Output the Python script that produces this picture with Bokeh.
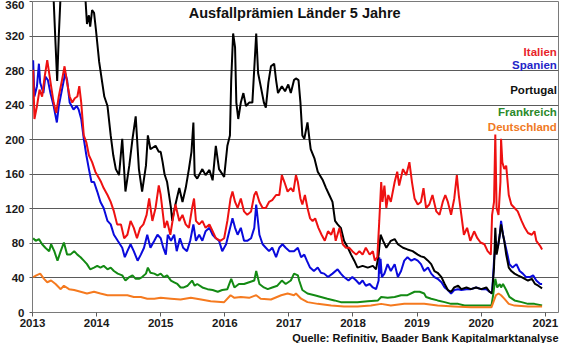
from bokeh.plotting import figure
from bokeh.models import Range1d, FixedTicker, Label, Title
from bokeh.embed import file_html
from bokeh.resources import INLINE

# ---------------- data (5y CDS, bp) ----------------
pt_t = [2013.00, 2013.10, 2013.20, 2013.30, 2013.33, 2013.36, 2013.385, 2013.41, 2013.44, 2013.50,
        2013.58, 2013.66, 2013.75, 2013.82, 2013.85, 2013.88, 2013.90, 2013.93, 2013.96, 2013.99,
        2014.04, 2014.09, 2014.12, 2014.17, 2014.22, 2014.26, 2014.30, 2014.35, 2014.40, 2014.45,
        2014.51, 2014.56, 2014.61, 2014.66, 2014.71, 2014.77, 2014.80, 2014.84, 2014.92, 2014.97,
        2015.00, 2015.03, 2015.06, 2015.10, 2015.16, 2015.18, 2015.23, 2015.29, 2015.34, 2015.39,
        2015.44, 2015.48, 2015.51, 2015.53, 2015.57, 2015.65, 2015.70, 2015.76, 2015.81, 2015.86,
        2015.91, 2015.99, 2016.04, 2016.08, 2016.10, 2016.13, 2016.16, 2016.18, 2016.21, 2016.25,
        2016.29, 2016.33, 2016.38, 2016.43, 2016.47, 2016.49, 2016.52, 2016.56, 2016.61, 2016.64,
        2016.68, 2016.72, 2016.77, 2016.80, 2016.83, 2016.89, 2016.94, 2016.99, 2017.03, 2017.08,
        2017.11, 2017.15, 2017.18, 2017.21, 2017.24, 2017.29, 2017.32, 2017.34, 2017.40, 2017.45,
        2017.53, 2017.58, 2017.63, 2017.68, 2017.72, 2017.76, 2017.81, 2017.86, 2017.92, 2017.97,
        2018.02, 2018.07, 2018.15, 2018.23, 2018.31, 2018.36, 2018.40, 2018.43, 2018.47, 2018.52,
        2018.59, 2018.65, 2018.70, 2018.78, 2018.85, 2018.93, 2019.01, 2019.06, 2019.11, 2019.17,
        2019.22, 2019.27, 2019.32, 2019.38, 2019.43, 2019.48, 2019.53, 2019.58, 2019.64, 2019.69,
        2019.77, 2019.84, 2019.92, 2020.00, 2020.08, 2020.13, 2020.17, 2020.20, 2020.22, 2020.24,
        2020.26, 2020.29, 2020.31, 2020.34, 2020.36, 2020.39, 2020.43, 2020.47, 2020.52, 2020.57,
        2020.63, 2020.68, 2020.73, 2020.79, 2020.84, 2020.89, 2020.95]
pt_v = [440, 420, 400, 380, 362, 310, 268, 320, 370, 410,
        440, 430, 400, 370, 334, 344, 331, 350, 347, 327,
        290, 265, 250, 239, 205, 182, 166, 159, 201, 140,
        170, 201, 227, 166, 140, 170, 205, 189, 193, 186,
        186, 174, 160, 151, 121, 106, 125, 144, 128, 144,
        166, 186, 220, 159, 155, 166, 159, 165, 153, 193,
        166, 157, 193, 205, 269, 323, 307, 243, 224, 243,
        254, 239, 243, 243, 296, 323, 277, 262, 243, 237,
        266, 285, 288, 269, 254, 262, 256, 264, 254, 269,
        271, 269, 243, 205, 201, 220, 201, 189, 178, 163,
        153, 144, 136, 128, 106, 102, 98, 83, 75, 67,
        60, 52, 54, 52, 54, 50, 67, 90, 83, 75,
        83, 85, 79, 75, 73, 71, 67, 65, 64, 60,
        56, 48, 46, 41, 33, 26, 24, 29, 31, 27,
        29, 27, 29, 27, 29, 24, 22, 52, 98, 67,
        75, 90, 102, 90, 83, 67, 52, 48, 45, 43,
        41, 39, 37, 39, 33, 31, 28]

it_t = [2013.01, 2013.03, 2013.07, 2013.11, 2013.15, 2013.19, 2013.23, 2013.26, 2013.29, 2013.33,
        2013.37, 2013.41, 2013.46, 2013.50, 2013.54, 2013.58, 2013.62, 2013.66, 2013.70, 2013.73,
        2013.76, 2013.80, 2013.84, 2013.88, 2013.93, 2013.98, 2014.04, 2014.07, 2014.11, 2014.17,
        2014.22, 2014.27, 2014.32, 2014.38, 2014.43, 2014.48, 2014.53, 2014.58, 2014.63, 2014.68,
        2014.73, 2014.78, 2014.82, 2014.87, 2014.92, 2014.97, 2015.00, 2015.03, 2015.06, 2015.10,
        2015.15, 2015.20, 2015.23, 2015.29, 2015.34, 2015.39, 2015.44, 2015.49, 2015.52, 2015.55,
        2015.60, 2015.65, 2015.70, 2015.76, 2015.81, 2015.86, 2015.93, 2015.99, 2016.04, 2016.09,
        2016.12, 2016.16, 2016.20, 2016.25, 2016.30, 2016.35, 2016.41, 2016.46, 2016.49, 2016.54,
        2016.59, 2016.64, 2016.69, 2016.74, 2016.80, 2016.85, 2016.89, 2016.93, 2016.98, 2017.03,
        2017.07, 2017.11, 2017.14, 2017.18, 2017.21, 2017.25, 2017.29, 2017.33, 2017.37, 2017.41,
        2017.46, 2017.51, 2017.56, 2017.61, 2017.66, 2017.70, 2017.73, 2017.79, 2017.84, 2017.89,
        2017.94, 2017.99, 2018.05, 2018.10, 2018.15, 2018.20, 2018.26, 2018.31, 2018.34, 2018.38,
        2018.41, 2018.44, 2018.46, 2018.49, 2018.52, 2018.55, 2018.59, 2018.65, 2018.69, 2018.72,
        2018.78, 2018.83, 2018.88, 2018.92, 2018.96, 2019.01, 2019.06, 2019.10, 2019.14, 2019.19,
        2019.24, 2019.30, 2019.35, 2019.40, 2019.44, 2019.48, 2019.53, 2019.58, 2019.62, 2019.65,
        2019.69, 2019.73, 2019.78, 2019.83, 2019.89, 2019.94, 2019.99, 2020.05, 2020.10, 2020.15,
        2020.17, 2020.20, 2020.22, 2020.24, 2020.27, 2020.30, 2020.31, 2020.33, 2020.36, 2020.39,
        2020.43, 2020.47, 2020.52, 2020.57, 2020.63, 2020.68, 2020.73, 2020.79, 2020.83, 2020.86,
        2020.92, 2020.95]
it_v = [281, 224, 239, 258, 250, 273, 292, 277, 262, 243,
        231, 250, 269, 285, 266, 250, 243, 248, 250, 262,
        243, 205, 197, 182, 174, 163, 155, 151, 144, 136,
        128, 117, 102, 102, 86, 90, 106, 98, 86, 98,
        102, 113, 132, 106, 121, 147, 136, 117, 98, 106,
        90, 113, 125, 106, 113, 102, 98, 121, 132, 106,
        102, 106, 98, 102, 94, 86, 83, 86, 106, 132,
        140, 128, 121, 132, 117, 113, 117, 136, 140, 128,
        121, 121, 128, 130, 136, 136, 159, 151, 140, 144,
        140, 159, 151, 132, 125, 136, 121, 109, 106, 109,
        98, 90, 83, 94, 90, 98, 83, 98, 79, 75,
        75, 71, 67, 71, 67, 75, 67, 71, 60, 64,
        106, 151, 128, 147, 121, 136, 128, 151, 163, 147,
        166, 159, 174, 151, 132, 125, 128, 144, 121, 125,
        136, 117, 113, 128, 136, 128, 113, 132, 159, 136,
        113, 90, 98, 83, 94, 86, 81, 79, 71, 67,
        113, 128, 206, 121, 113, 151, 201, 174, 166, 170,
        136, 125, 121, 117, 106, 98, 92, 90, 94, 83,
        77, 73]

es_t = [2013.01, 2013.03, 2013.07, 2013.10, 2013.12, 2013.17, 2013.20, 2013.24, 2013.28, 2013.33,
        2013.38, 2013.41, 2013.46, 2013.51, 2013.54, 2013.58, 2013.64, 2013.69, 2013.72, 2013.76,
        2013.80, 2013.84, 2013.88, 2013.92, 2013.96, 2014.01, 2014.06, 2014.11, 2014.17, 2014.22,
        2014.27, 2014.33, 2014.40, 2014.44, 2014.48, 2014.53, 2014.58, 2014.64, 2014.69, 2014.74,
        2014.79, 2014.84, 2014.90, 2014.95, 2015.00, 2015.04, 2015.08, 2015.11, 2015.16, 2015.21,
        2015.25, 2015.30, 2015.35, 2015.41, 2015.46, 2015.51, 2015.55, 2015.60, 2015.65, 2015.70,
        2015.76, 2015.81, 2015.86, 2015.91, 2015.96, 2016.02, 2016.07, 2016.12, 2016.16, 2016.20,
        2016.25, 2016.30, 2016.35, 2016.41, 2016.46, 2016.49, 2016.54, 2016.59, 2016.64, 2016.69,
        2016.74, 2016.80, 2016.85, 2016.90, 2016.95, 2017.01, 2017.08, 2017.14, 2017.19, 2017.24,
        2017.28, 2017.33, 2017.39, 2017.45, 2017.50, 2017.55, 2017.61, 2017.68, 2017.76, 2017.81,
        2017.86, 2017.93, 2017.99, 2018.05, 2018.10, 2018.15, 2018.20, 2018.26, 2018.31, 2018.36,
        2018.40, 2018.41, 2018.42, 2018.43, 2018.45, 2018.49, 2018.54, 2018.59, 2018.65, 2018.70,
        2018.75, 2018.80, 2018.85, 2018.91, 2018.96, 2019.01, 2019.06, 2019.11, 2019.17, 2019.22,
        2019.27, 2019.32, 2019.38, 2019.43, 2019.48, 2019.53, 2019.58, 2019.64, 2019.69, 2019.77,
        2019.84, 2019.92, 2020.00, 2020.08, 2020.13, 2020.17, 2020.20, 2020.22, 2020.26, 2020.29,
        2020.31, 2020.34, 2020.36, 2020.41, 2020.44, 2020.49, 2020.55, 2020.60, 2020.65, 2020.70,
        2020.76, 2020.81, 2020.86, 2020.92, 2020.95]
es_v = [292, 250, 262, 288, 266, 254, 273, 269, 254, 239,
        220, 239, 258, 277, 269, 243, 235, 239, 235, 224,
        201, 182, 166, 151, 151, 140, 128, 121, 106, 102,
        90, 83, 75, 64, 71, 79, 71, 60, 67, 75,
        90, 75, 83, 90, 86, 75, 67, 90, 83, 90,
        71, 86, 75, 71, 83, 102, 83, 90, 83, 94,
        98, 90, 86, 83, 71, 79, 94, 109, 98, 90,
        98, 83, 83, 86, 98, 125, 90, 79, 75, 71,
        75, 64, 75, 79, 75, 71, 71, 75, 64, 67,
        60, 52, 48, 52, 46, 45, 41, 45, 50, 45,
        41, 37, 41, 37, 33, 37, 31, 33, 29, 27,
        37, 64, 45, 62, 41, 45, 56, 48, 56, 41,
        48, 60, 64, 60, 62, 60, 56, 48, 52, 45,
        41, 39, 35, 29, 26, 22, 26, 27, 26, 27,
        27, 29, 27, 27, 24, 22, 60, 75, 75, 90,
        106, 90, 83, 67, 56, 52, 56, 48, 45, 41,
        41, 43, 37, 33, 33]

fr_t = [2013.01, 2013.05, 2013.10, 2013.15, 2013.20, 2013.26, 2013.29, 2013.34, 2013.39, 2013.44,
        2013.49, 2013.54, 2013.59, 2013.65, 2013.70, 2013.75, 2013.80, 2013.85, 2013.90, 2013.96,
        2014.01, 2014.06, 2014.11, 2014.17, 2014.22, 2014.27, 2014.33, 2014.40, 2014.45, 2014.51,
        2014.56, 2014.61, 2014.66, 2014.71, 2014.77, 2014.80, 2014.84, 2014.90, 2014.95, 2015.00,
        2015.05, 2015.10, 2015.16, 2015.21, 2015.26, 2015.31, 2015.36, 2015.42, 2015.49, 2015.53,
        2015.57, 2015.65, 2015.73, 2015.81, 2015.89, 2015.96, 2016.04, 2016.10, 2016.15, 2016.22,
        2016.30, 2016.38, 2016.46, 2016.49, 2016.54, 2016.61, 2016.67, 2016.74, 2016.82, 2016.89,
        2016.95, 2017.03, 2017.08, 2017.14, 2017.16, 2017.21, 2017.29, 2017.40, 2017.50, 2017.60,
        2017.71, 2017.81, 2017.92, 2018.07, 2018.23, 2018.39, 2018.44, 2018.54, 2018.65, 2018.75,
        2018.85, 2018.96, 2019.04, 2019.11, 2019.14, 2019.22, 2019.32, 2019.43, 2019.53, 2019.64,
        2019.74, 2019.84, 2019.95, 2020.05, 2020.16, 2020.19, 2020.22, 2020.25, 2020.29, 2020.31,
        2020.34, 2020.39, 2020.44, 2020.52, 2020.63, 2020.73, 2020.83, 2020.95]
fr_v = [86, 83, 85, 79, 75, 71, 79, 71, 60, 71,
        81, 67, 67, 71, 67, 64, 60, 56, 50, 52,
        54, 52, 54, 50, 52, 48, 45, 43, 37, 41,
        43, 39, 39, 41, 45, 52, 46, 45, 43, 45,
        41, 43, 37, 35, 33, 29, 29, 31, 37, 31,
        33, 29, 27, 26, 24, 26, 27, 39, 29, 33,
        33, 35, 37, 48, 33, 29, 27, 29, 31, 37,
        33, 37, 45, 43, 37, 26, 22, 20, 18, 16,
        14, 12, 12, 12, 13, 14, 18, 17, 18, 20,
        20, 24, 24, 22, 18, 16, 14, 12, 10, 10,
        8, 8, 8, 8, 8, 22, 39, 29, 33, 29,
        33, 26, 18, 14, 12, 10, 10, 8]

de_t = [2013.01, 2013.06, 2013.12, 2013.18, 2013.23, 2013.29, 2013.36, 2013.44, 2013.49, 2013.57,
        2013.65, 2013.75, 2013.85, 2013.96, 2014.06, 2014.17, 2014.27, 2014.38, 2014.48, 2014.58,
        2014.69, 2014.79, 2014.90, 2015.00, 2015.16, 2015.31, 2015.47, 2015.63, 2015.78, 2015.99,
        2016.09, 2016.15, 2016.25, 2016.38, 2016.49, 2016.56, 2016.72, 2016.88, 2016.98, 2017.08,
        2017.11, 2017.19, 2017.29, 2017.45, 2017.66, 2017.86, 2018.07, 2018.28, 2018.44, 2018.59,
        2018.80, 2019.01, 2019.11, 2019.32, 2019.58, 2019.84, 2020.16, 2020.20, 2020.23, 2020.27,
        2020.31, 2020.36, 2020.43, 2020.52, 2020.73, 2020.95]
de_v = [41, 43, 45, 39, 35, 37, 33, 27, 31, 27,
        26, 24, 22, 24, 22, 20, 20, 20, 20, 18,
        18, 16, 16, 17, 16, 15, 17, 15, 13, 12,
        20, 17, 18, 17, 20, 16, 15, 20, 22, 20,
        22, 16, 12, 10, 8, 7, 7, 8, 10, 8,
        10, 10, 10, 8, 7, 6, 6, 14, 20, 22,
        20, 16, 10, 8, 7, 7]

y_ticks = [0, 40, 80, 120, 160, 200, 240, 280, 320, 360]
x_ticks = [2013, 2014, 2015, 2016, 2017, 2018, 2019, 2020, 2021]
x_tick_labels = ["2013", "2014", "2015", "2016", "2017", "2018", "2019", "2020", "2021"]

series_names = ["Italien", "Spanien", "Portugal", "Frankreich", "Deutschland"]

# ---------------- figure ----------------
FONT = "Liberation Sans"
p = figure(width=564, height=343, x_range=Range1d(2013, 2021.206), y_range=Range1d(0, 360),
           output_backend="svg", toolbar_location=None,
           min_border_left=32, min_border_right=6, min_border_top=1, min_border_bottom=0)
p.background_fill_color = "white"
p.border_fill_color = "white"
p.outline_line_color = "#7a7a7a"
p.outline_line_width = 1

p.xgrid.grid_line_color = None
p.ygrid.grid_line_color = "#5a5a5a"
p.ygrid.grid_line_width = 1

p.yaxis.ticker = FixedTicker(ticks=y_ticks)
p.xaxis.ticker = FixedTicker(ticks=x_ticks)
p.xaxis.major_label_overrides = {t: s for t, s in zip(x_ticks, x_tick_labels)}

for ax in (p.xaxis[0], p.yaxis[0]):
    ax.axis_line_color = None
    ax.minor_tick_line_color = None
    ax.major_tick_line_color = "#5a5a5a"
    ax.major_tick_in = 0
    ax.major_label_text_font = FONT
    ax.major_label_text_font_style = "bold"
    ax.major_label_text_font_size = "11.5px"
    ax.major_label_text_color = "#1a1a1a"
p.xaxis.major_tick_out = 4
p.xaxis.major_label_standoff = 2
p.xaxis.major_label_text_line_height = 0.9
p.yaxis.major_tick_out = 3
p.yaxis.major_label_standoff = 5

W = 2
p.line(es_t, es_v, line_color="#0a0adc", line_width=W)
p.line(pt_t, pt_v, line_color="#000000", line_width=W)
p.line(it_t, it_v, line_color="#ee1111", line_width=W)
p.line(fr_t, fr_v, line_color="#138a13", line_width=W)
p.line(de_t, de_v, line_color="#f57a1f", line_width=W)

p.add_layout(Label(x=2017.09, y=347, text="Ausfallprämien Länder 5 Jahre", text_align="center",
                   text_baseline="middle", text_font=FONT, text_font_style="bold",
                   text_font_size="14.5px", text_color="#111111"))

legend_y = [301, 287, 257, 232, 215]
legend_colors = ["#e8242b", "#2424c8", "#111111", "#2a8a2a", "#f07a24"]
for name, yy, col in zip(series_names, legend_y, legend_colors):
    p.add_layout(Label(x=2021.18, y=yy, text=name, text_align="right", text_baseline="middle",
                       text_font=FONT, text_font_style="bold", text_font_size="11.5px",
                       text_color=col))

p.add_layout(Title(text="Quelle: Refinitiv, Baader Bank Kapitalmarktanalyse", align="right",
                   text_font=FONT, text_font_style="bold", text_font_size="11px",
                   text_line_height=0.9, text_color="#111111", standoff=0, offset=0), "below")

open("out.html", "w").write(file_html(p, INLINE))
